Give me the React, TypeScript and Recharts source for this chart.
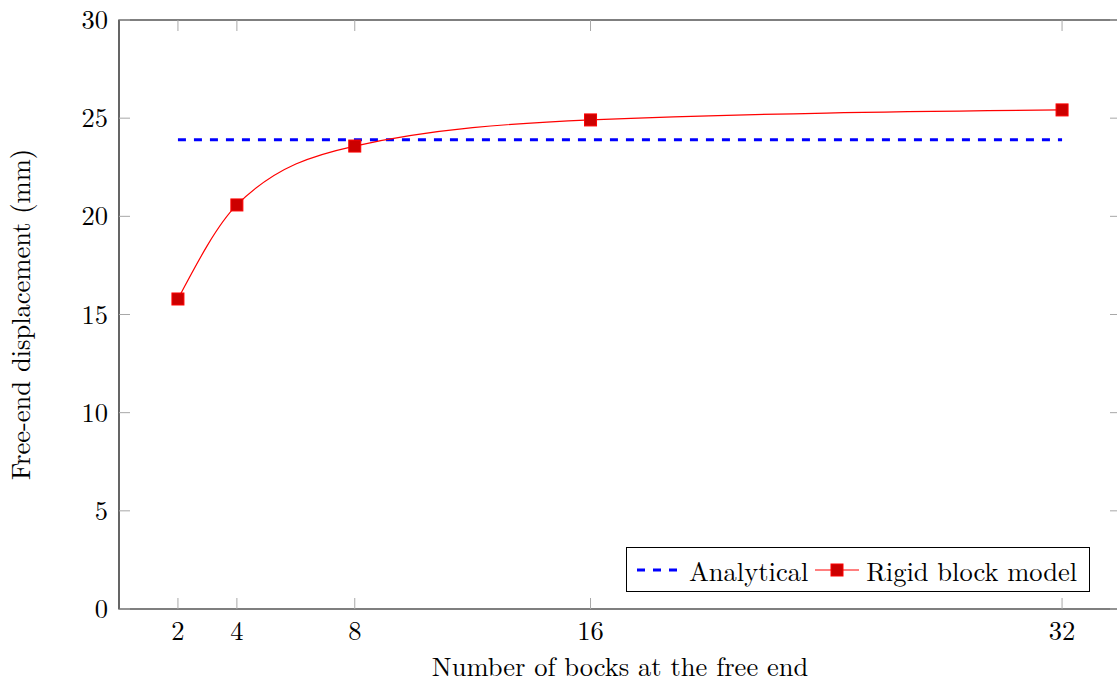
import React from 'react';
import { LineChart, Line, XAxis, YAxis, ReferenceArea } from 'recharts';

// values
const blocks = [2, 4, 8, 16, 32];
const rigidBlock = [15.79, 20.58, 23.58, 24.91, 25.42];
const analyticalX = [2, 32];
const analyticalValue = 23.9;
const xTicks = [2, 4, 8, 16, 32];
const yTicks = [0, 5, 10, 15, 20, 25, 30];

const rigidData = blocks.map((x, i) => ({ x, y: rigidBlock[i] }));
const analyticalData = analyticalX.map((x) => ({ x, y: analyticalValue }));

const FONT = '"Latin Modern Roman", "CMU Serif", "Liberation Serif", serif';
const FS = 26.5;
const PLOT_LEFT = 119;
const PLOT_TOP = 20;
const PLOT_RIGHT = 1121;
const PLOT_BOTTOM = 609;
const TICK = 11;
const TICK_COLOR = '#a8a8a8';

const XTick = (props: any) => {
    const { x, payload } = props;
    return (
        <g>
            <line x1={x} x2={x} y1={PLOT_BOTTOM} y2={PLOT_BOTTOM - TICK} stroke={TICK_COLOR} />
            <line x1={x} x2={x} y1={PLOT_TOP} y2={PLOT_TOP + TICK} stroke={TICK_COLOR} />
            <text x={x} y={PLOT_BOTTOM + 31} textAnchor="middle" fontFamily={FONT} fontSize={FS} fill="#000">
                {payload.value}
            </text>
        </g>
    );
};

const YTick = (props: any) => {
    const { y, payload } = props;
    return (
        <g>
            <line x1={PLOT_LEFT} x2={PLOT_LEFT + TICK} y1={y} y2={y} stroke={TICK_COLOR} />
            <line x1={PLOT_RIGHT} x2={PLOT_RIGHT - TICK} y1={y} y2={y} stroke={TICK_COLOR} />
            <text x={PLOT_LEFT - 11} y={y + 9} textAnchor="end" fontFamily={FONT} fontSize={FS} fill="#000">
                {payload.value}
            </text>
        </g>
    );
};

const SquareDot = (props: any) => {
    const { cx, cy } = props;
    if (cx == null || cy == null) return null;
    return <rect x={cx - 6} y={cy - 6} width={12} height={12} fill="#cc0000" stroke="#ff0000" strokeWidth={1} />;
};

const YLabel = () => (
    <text
        transform={`translate(30, ${(PLOT_TOP + PLOT_BOTTOM) / 2}) rotate(-90)`}
        textAnchor="middle"
        fontFamily={FONT}
        fontSize={FS}
        fill="#000"
    >
        Free-end displacement (mm)
    </text>
);

const ChartLegend = () => (
    <div
        style={{
            position: 'absolute',
            left: 626,
            top: 547,
            width: 462,
            height: 43,
            border: '1px solid #000',
            background: '#fff',
            fontFamily: FONT,
            fontSize: FS,
            display: 'flex',
            alignItems: 'center',
            whiteSpace: 'nowrap',
        }}
    >
        <svg width={42} height={20} style={{ marginLeft: 9, flexShrink: 0 }}>
            <line x1={1} x2={41} y1={10} y2={10} stroke="#0000ff" strokeWidth={3} strokeDasharray="8 8" />
        </svg>
        <span style={{ marginLeft: 11 }}>Analytical</span>
        <svg width={46} height={20} style={{ marginLeft: 6, flexShrink: 0 }}>
            <line x1={1} x2={45} y1={10} y2={10} stroke="#ff0000" strokeWidth={1.2} />
            <rect x={17} y={4} width={12} height={12} fill="#cc0000" stroke="#ff0000" />
        </svg>
        <span style={{ marginLeft: 6 }}>Rigid block model</span>
    </div>
);

const App = () => {
    return (
        <div style={{ position: 'absolute', left: 0, top: 0, width: 1117, height: 686, overflow: 'hidden', background: '#fff' }}>
            <LineChart width={1130} height={686} margin={{ top: PLOT_TOP, right: 1130 - PLOT_RIGHT, bottom: 0, left: 0 }}>
                <XAxis
                    type="number"
                    dataKey="x"
                    domain={[0, 34]}
                    ticks={xTicks}
                    height={686 - PLOT_BOTTOM}
                    tick={<XTick />}
                    tickLine={false}
                    axisLine={false}
                    allowDataOverflow
                    label={{
                        value: 'Number of bocks at the free end',
                        position: 'insideBottom',
                        offset: 10,
                        fontFamily: FONT,
                        fontSize: FS,
                        fill: '#000',
                    }}
                />
                <YAxis
                    type="number"
                    domain={[0, 30]}
                    ticks={yTicks}
                    width={PLOT_LEFT}
                    tick={<YTick />}
                    tickLine={false}
                    axisLine={false}
                    allowDataOverflow
                    label={<YLabel />}
                />
                <ReferenceArea x1={0} x2={34} y1={0} y2={30} fill="none" stroke="#000" strokeWidth={1.2} ifOverflow="visible" />
                <Line
                    data={analyticalData}
                    dataKey="y"
                    name="Analytical"
                    type="linear"
                    stroke="#0000ff"
                    strokeWidth={3}
                    strokeDasharray="8 8"
                    dot={false}
                    isAnimationActive={false}
                />
                <Line
                    data={rigidData}
                    dataKey="y"
                    name="Rigid block model"
                    type="monotoneX"
                    stroke="#ff0000"
                    strokeWidth={1.2}
                    dot={<SquareDot />}
                    activeDot={false}
                    isAnimationActive={false}
                />
            </LineChart>
            <ChartLegend />
        </div>
    );
};

export default App;
